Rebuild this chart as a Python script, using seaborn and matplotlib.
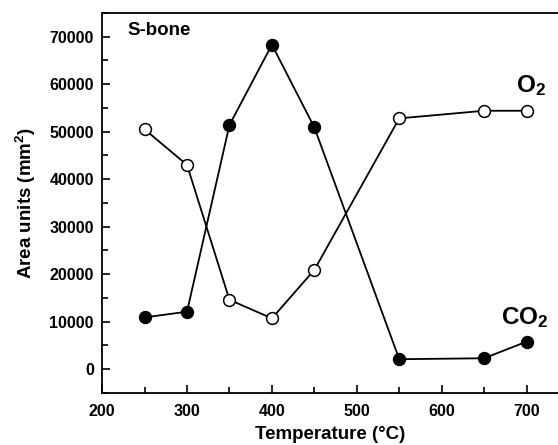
import numpy as np
import pandas as pd
import matplotlib
matplotlib.use("Agg")
import matplotlib.pyplot as plt
from matplotlib.ticker import MultipleLocator
import seaborn as sns

# Data
temperature = [250, 300, 350, 400, 450, 550, 650, 700]
o2_area = [50500, 43000, 14600, 10700, 20900, 52800, 54400, 54400]
co2_area = [10900, 12100, 51400, 68300, 50900, 2100, 2300, 5800]

df = pd.DataFrame({'Temperature': temperature, 'O2': o2_area, 'CO2': co2_area})

sns.set_theme(style='ticks')
plt.rcParams['font.family'] = ['Liberation Sans', 'DejaVu Sans']
plt.rcParams['font.weight'] = 'bold'
plt.rcParams['text.color'] = 'black'
plt.rcParams['axes.labelcolor'] = 'black'
plt.rcParams['xtick.color'] = 'black'
plt.rcParams['ytick.color'] = 'black'
plt.rcParams['mathtext.fontset'] = 'custom'
plt.rcParams['mathtext.rm'] = 'Liberation Sans:bold'
plt.rcParams['mathtext.bf'] = 'Liberation Sans:bold'
plt.rcParams['mathtext.default'] = 'bf'

fig = plt.figure(figsize=(5.58, 4.45), dpi=100)
ax = fig.add_axes([0.183, 0.117, 0.817, 0.854])

sns.lineplot(data=df, x='Temperature', y='O2', ax=ax, color='black', lw=1.3,
             marker='o', markersize=8.5, markerfacecolor='white',
             markeredgecolor='black', markeredgewidth=1.1)
sns.lineplot(data=df, x='Temperature', y='CO2', ax=ax, color='black', lw=1.3,
             marker='o', markersize=8.5, markerfacecolor='black',
             markeredgecolor='black', markeredgewidth=1.1)

ax.set_xlim(200, 737)
ax.set_ylim(-5000, 75000)
ax.xaxis.set_major_locator(MultipleLocator(100))
ax.xaxis.set_minor_locator(MultipleLocator(50))
ax.yaxis.set_major_locator(MultipleLocator(10000))
ax.yaxis.set_minor_locator(MultipleLocator(5000))
ax.tick_params(which='both', direction='in', labelsize=11.5, width=1.2,
               color='black', labelcolor='black', top=False, right=False)
ax.tick_params(which='major', length=6)
ax.tick_params(which='minor', length=4)
ax.tick_params(axis='x', pad=8)
ax.tick_params(axis='y', pad=6)
for lbl in ax.get_xticklabels() + ax.get_yticklabels():
    lbl.set_fontweight('bold')

for side in ['left', 'bottom', 'top']:
    ax.spines[side].set_visible(True)
    ax.spines[side].set_color('black')
    ax.spines[side].set_linewidth(1.3)
ax.spines['right'].set_visible(False)

ax.set_xlabel('Temperature (\u00b0C)', fontsize=13.5, fontweight='bold', labelpad=5)
ax.set_ylabel('Area units (mm$^2$)', fontsize=13.5, fontweight='bold', labelpad=8)

ax.text(230, 71300, 'S-bone', fontsize=13.5, fontweight='bold', ha='left', va='center')
ax.text(688, 59800, 'O$_2$', fontsize=17.5, ha='left', va='center')
ax.text(670, 10900, 'CO$_2$', fontsize=17.5, ha='left', va='center')

fig.savefig('out.png', dpi=100)
